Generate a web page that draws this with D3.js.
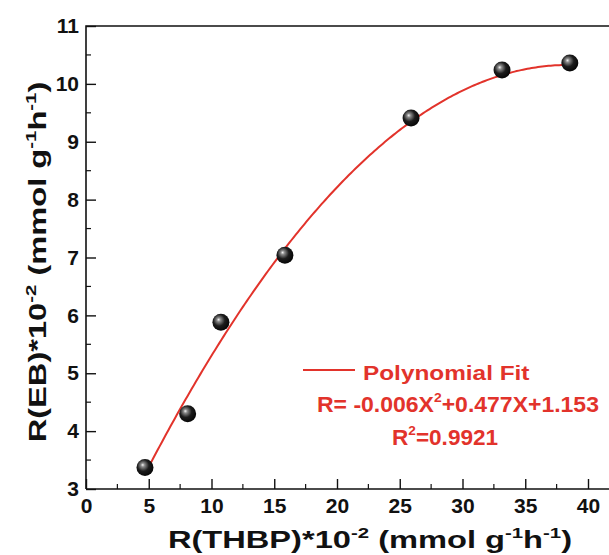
<!DOCTYPE html>
<html>
<head>
<meta charset="utf-8">
<script src="https://cdn.jsdelivr.net/npm/d3@7/dist/d3.min.js"></script>
<style>
  html, body { margin: 0; padding: 0; background: #fff; }
  svg { display: block; font-family: "Liberation Sans", Arial, sans-serif; }
</style>
</head>
<body>
<svg id="chart" width="609" height="555"></svg>
<script>
// Measured rates
const thbpRate = [4.7, 8.1, 10.75, 15.85, 25.9, 33.15, 38.55];
const ebRate   = [3.37, 4.30, 5.88, 7.04, 9.41, 10.24, 10.36];

// Quadratic fit coefficients: c0 + c1*X + c2*X^2
const fitCoef = [1.153, 0.477, -0.0062];
const fitR2 = 0.9921;

const xTicks = [0, 5, 10, 15, 20, 25, 30, 35, 40];
const xMinorTicks = [2.5, 7.5, 12.5, 17.5, 22.5, 27.5, 32.5, 37.5];
const yTicks = [3, 4, 5, 6, 7, 8, 9, 10, 11];
const yMinorTicks = [3.5, 4.5, 5.5, 6.5, 7.5, 8.5, 9.5, 10.5];

const red = "#e2332b";
const ink = "#111";
const svg = d3.select("#chart");

const plotLeft = 86, plotTop = 26, plotBottom = 489;
const x = d3.scaleLinear().domain([0, 40]).range([plotLeft, 588]);
const y = d3.scaleLinear().domain([3, 11]).range([plotBottom, plotTop]);

// sphere shading for markers
const defs = svg.append("defs");
const grad = defs.append("radialGradient").attr("id", "ball")
  .attr("cx", "0.42").attr("cy", "0.40").attr("r", "0.62")
  .attr("fx", "0.36").attr("fy", "0.34");
grad.append("stop").attr("offset", "0").attr("stop-color", "#f4f4f4");
grad.append("stop").attr("offset", "0.18").attr("stop-color", "#8a8a8a");
grad.append("stop").attr("offset", "0.55").attr("stop-color", "#1c1c1c");
grad.append("stop").attr("offset", "1").attr("stop-color", "#050505");

// frame (runs off the right edge)
svg.append("path")
  .attr("d", `M${plotLeft},${plotBottom}V${plotTop}H620M${plotLeft},${plotBottom}H620`)
  .attr("fill", "none").attr("stroke", ink).attr("stroke-width", 1.6);

// x axis
const xAxis = svg.append("g").attr("transform", `translate(0,${plotBottom})`);
xAxis.call(d3.axisBottom(x).tickValues(xTicks).tickSize(-10).tickPadding(9).tickFormat(d3.format("d")));
xAxis.select(".domain").remove();
xAxis.selectAll(".tick line").attr("stroke", ink).attr("stroke-width", 1.4);
xAxis.selectAll("text").attr("font-size", 21).attr("font-weight", "bold").attr("fill", ink)
  .attr("y", 24).attr("dy", 0);
xAxis.selectAll(".minor").data(xMinorTicks).join("line")
  .attr("x1", d => x(d)).attr("x2", d => x(d)).attr("y1", 0).attr("y2", -5)
  .attr("stroke", ink).attr("stroke-width", 1.2);

// y axis
const yAxis = svg.append("g").attr("transform", `translate(${plotLeft},0)`);
yAxis.call(d3.axisLeft(y).tickValues(yTicks).tickSize(-10).tickPadding(7).tickFormat(d3.format("d")));
yAxis.select(".domain").remove();
yAxis.selectAll(".tick line").attr("stroke", ink).attr("stroke-width", 1.4);
yAxis.selectAll("text").attr("font-size", 21).attr("font-weight", "bold").attr("fill", ink);
yAxis.selectAll(".minor").data(yMinorTicks).join("line")
  .attr("y1", d => y(d)).attr("y2", d => y(d)).attr("x1", 0).attr("x2", 5)
  .attr("stroke", ink).attr("stroke-width", 1.2);

// fitted curve
const fit = X => fitCoef[0] + fitCoef[1] * X + fitCoef[2] * X * X;
const xs = d3.range(0, 201).map(i => thbpRate[0] + (thbpRate[thbpRate.length - 1] - thbpRate[0]) * i / 200);
svg.append("path")
  .datum(xs)
  .attr("d", d3.line().x(d => x(d)).y(d => y(fit(d))))
  .attr("fill", "none").attr("stroke", red).attr("stroke-width", 2);

// data markers
svg.selectAll(".pt").data(thbpRate).join("circle")
  .attr("cx", d => x(d)).attr("cy", (d, i) => y(ebRate[i])).attr("r", 8.5)
  .attr("fill", "url(#ball)");

// legend
svg.append("line").attr("x1", 303).attr("x2", 355).attr("y1", 370).attr("y2", 370)
  .attr("stroke", red).attr("stroke-width", 2);
svg.append("text").attr("transform", "translate(363,380) scale(1.16,1)")
  .attr("font-size", 21).attr("font-weight", "bold").attr("fill", red)
  .text("Polynomial Fit");

const sgn = v => (v < 0 ? "-" : "+");
const eq = svg.append("text").attr("transform", "translate(317,412) scale(1.07,1)")
  .attr("font-size", 21.5).attr("font-weight", "bold").attr("fill", red);
eq.append("tspan").text(`R= ${sgn(fitCoef[2])}${Math.abs(fitCoef[2]).toFixed(3)}X`);
eq.append("tspan").attr("dy", -10).attr("font-size", 13).text("2");
eq.append("tspan").attr("dy", 10).text(`${sgn(fitCoef[1])}${fitCoef[1].toFixed(3)}X${sgn(fitCoef[0])}${fitCoef[0].toFixed(3)}`);

const r2 = svg.append("text").attr("transform", "translate(392,445) scale(1.05,1)")
  .attr("font-size", 21.5).attr("font-weight", "bold").attr("fill", red);
r2.append("tspan").text("R");
r2.append("tspan").attr("dy", -10).attr("font-size", 13).text("2");
r2.append("tspan").attr("dy", 10).text(`=${fitR2}`);

// axis titles
function title(sel, main) {
  sel.attr("font-size", 24).attr("font-weight", "bold").attr("fill", ink).attr("text-anchor", "middle");
  sel.append("tspan").text(main + "*10");
  sel.append("tspan").attr("dy", -10).attr("font-size", 15).text("-2");
  sel.append("tspan").attr("dy", 10).text(" (mmol g");
  sel.append("tspan").attr("dy", -10).attr("font-size", 15).text("-1");
  sel.append("tspan").attr("dy", 10).text("h");
  sel.append("tspan").attr("dy", -10).attr("font-size", 15).text("-1");
  sel.append("tspan").attr("dy", 10).text(")");
}
title(svg.append("text").attr("transform", "translate(370,548) scale(1.36,1)"), "R(THBP)");
title(svg.append("text").attr("transform", "translate(46,262) rotate(-90) scale(1.36,1)"), "R(EB)");
</script>
</body>
</html>
